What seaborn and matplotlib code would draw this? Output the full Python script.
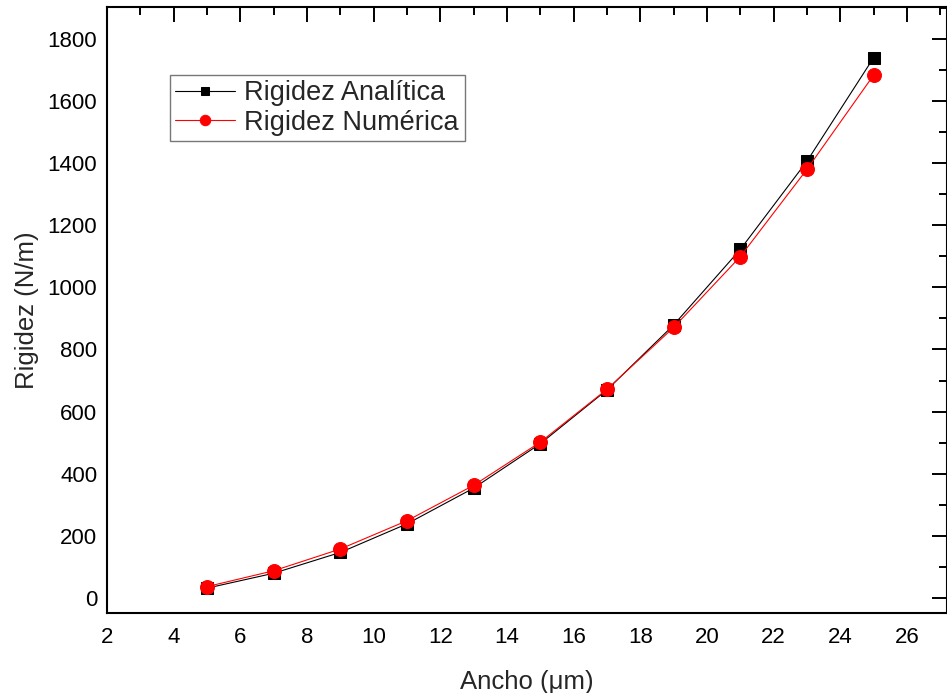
import matplotlib
matplotlib.use("Agg")
import matplotlib.pyplot as plt
import seaborn as sns
import pandas as pd
from matplotlib.ticker import MultipleLocator

# values
ancho = [5, 7, 9, 11, 13, 15, 17, 19, 21, 23, 25]
rigidez_analitica = [32, 80, 147, 239, 354, 497, 670, 879, 1122, 1406, 1739]
rigidez_numerica = [37, 88, 158, 249, 363, 502, 672, 871, 1099, 1380, 1683]

df = pd.DataFrame({
    "ancho": ancho + ancho,
    "rigidez": rigidez_analitica + rigidez_numerica,
    "serie": ["Rigidez Analítica"] * len(ancho) + ["Rigidez Numérica"] * len(ancho),
})

sns.set_style("white")
plt.rcParams['font.family'] = ['Liberation Sans', 'DejaVu Sans']

fig = plt.figure(figsize=(9.47, 6.93), dpi=100)
ax = fig.add_axes([0.113, 0.1154, 0.887, 0.8745])

sns.lineplot(data=df[df.serie == "Rigidez Analítica"], x="ancho", y="rigidez",
             color="black", marker="s", markersize=8.5, markeredgecolor="black",
             linewidth=0.8, label="Rigidez Analítica", ax=ax)
sns.lineplot(data=df[df.serie == "Rigidez Numérica"], x="ancho", y="rigidez",
             color="red", marker="o", markersize=10, markeredgecolor="red",
             linewidth=0.8, label="Rigidez Numérica", ax=ax)

ax.set_xlim(2, 27.2)
ax.set_ylim(-48, 1902)
ax.xaxis.set_major_locator(MultipleLocator(2))
ax.xaxis.set_minor_locator(MultipleLocator(1))
ax.yaxis.set_major_locator(MultipleLocator(200))
ax.yaxis.set_minor_locator(MultipleLocator(100))

ax.tick_params(which="both", direction="in", top=True, right=True, width=1.4,
               colors="black", labelsize=16)
ax.tick_params(which="major", length=11, pad=7)
ax.tick_params(which="minor", length=6)
ax.tick_params(axis="x", which="major", pad=10)
ax.tick_params(axis="y", right=True, labelright=False)
ax.tick_params(axis="x", top=True, labeltop=False)
for s in ax.spines.values():
    s.set_linewidth(1.5)
    s.set_color("black")

ax.set_xlabel("Ancho (μm)", fontsize=18.5, labelpad=16)
ax.set_ylabel("Rigidez (N/m)", fontsize=18.5, labelpad=6)

leg = ax.legend(loc="upper left", bbox_to_anchor=(0.075, 0.888), borderaxespad=0,
                fontsize=19.5, frameon=True, fancybox=False, handlelength=2.2,
                markerscale=0.75, borderpad=0.2, labelspacing=0.12, handletextpad=0.35)
leg.get_frame().set_edgecolor("#555555")
leg.get_frame().set_linewidth(1.0)

fig.savefig("out.png", dpi=100)
